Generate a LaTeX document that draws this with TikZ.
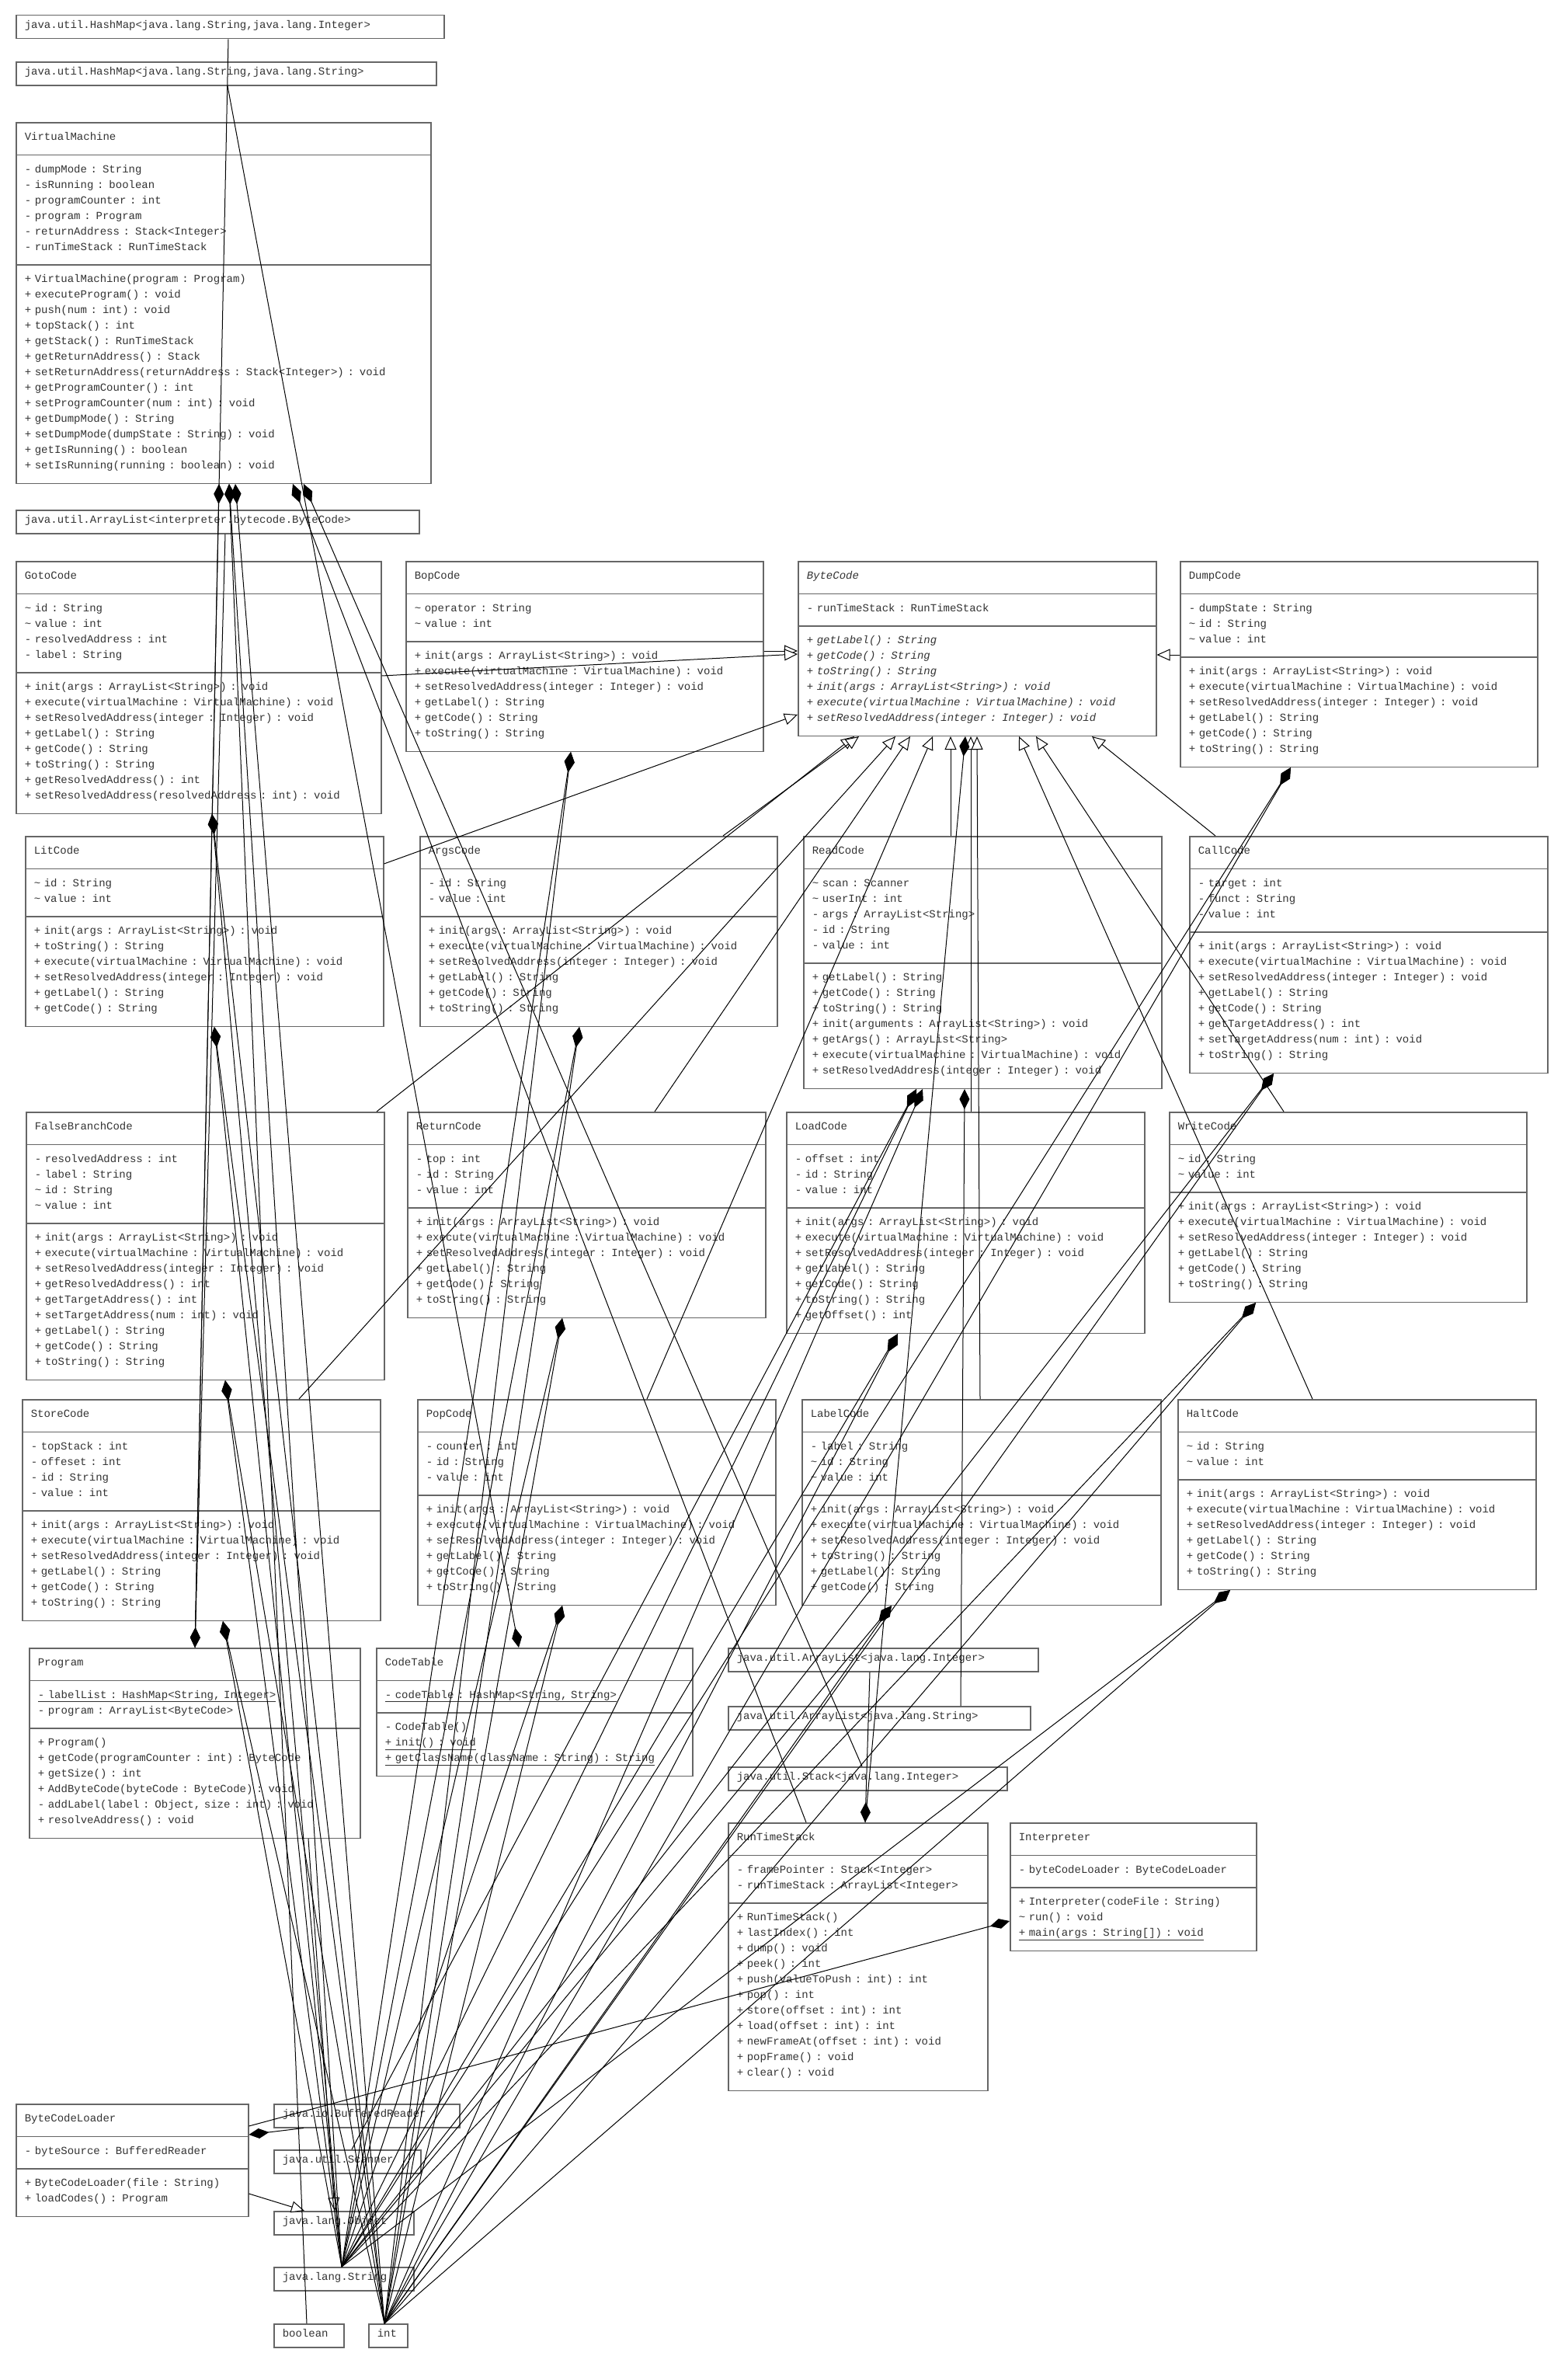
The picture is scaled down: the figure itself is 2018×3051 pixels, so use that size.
\documentclass[tikz,border=0pt]{standalone}
\usepackage{fontspec}
\newfontfamily\umlfont{Liberation Mono}
\usetikzlibrary{arrows.meta,shapes.multipart}
\newcommand{\ustrut}{\rule[-8pt]{0pt}{20pt}}
\newcommand{\tld}{\textasciitilde}

\begin{document}
\begin{tikzpicture}
[x=1pt,y=-1pt,%
  every node/.style={font=\umlfont\fontsize{14}{20}\selectfont,text=black!80,align=left,anchor=north west},%
  umlclass/.style={rectangle split,rectangle split parts=3,draw=black!60,line width=1.5pt,inner xsep=11pt,inner ysep=10pt},%
  typebox/.style={draw=black!60,line width=1.5pt,inner xsep=11pt,inner ysep=5pt},%
  link/.style={black,line width=1pt},%
  comp/.style={link,arrows={Diamond[length=26pt,width=13pt]-}},%
  gen/.style={link,arrows={-Triangle[length=17pt,width=15pt,fill=white]}}]
\fill[white] (0,0) rectangle (2018,3051);
\useasboundingbox (0,0) rectangle (2018,3051);

\node[typebox,text width=529pt] (hmSI) at (20,19) {\ustrut java.util.HashMap<java.lang.String,java.lang.Integer>};
\node[typebox,text width=519pt] (hmSS) at (20,79) {\ustrut java.util.HashMap<java.lang.String,java.lang.String>};
\node[umlclass,text width=512pt] (vm) at (20,157) {\ustrut VirtualMachine
  \nodepart{two}\ustrut - dumpMode : String\\
  \ustrut - isRunning : boolean\\
  \ustrut - programCounter : int\\
  \ustrut - program : Program\\
  \ustrut - returnAddress : Stack<Integer>\\
  \ustrut - runTimeStack : RunTimeStack
  \nodepart{three}\ustrut + VirtualMachine(program : Program)\\
  \ustrut + executeProgram() : void\\
  \ustrut + push(num : int) : void\\
  \ustrut + topStack() : int\\
  \ustrut + getStack() : RunTimeStack\\
  \ustrut + getReturnAddress() : Stack\\
  \ustrut + setReturnAddress(returnAddress : Stack<Integer>) : void\\
  \ustrut + getProgramCounter() : int\\
  \ustrut + setProgramCounter(num : int) : void\\
  \ustrut + getDumpMode() : String\\
  \ustrut + setDumpMode(dumpState : String) : void\\
  \ustrut + getIsRunning() : boolean\\
  \ustrut + setIsRunning(running : boolean) : void};
\node[typebox,text width=497pt] (alBC) at (20,656) {\ustrut java.util.ArrayList<interpreter.bytecode.ByteCode>};

\node[umlclass,text width=448pt] (goto) at (20,722) {\ustrut GotoCode
  \nodepart{two}\ustrut \tld{} id : String\\
  \ustrut \tld{} value : int\\
  \ustrut - resolvedAddress : int\\
  \ustrut - label : String
  \nodepart{three}\ustrut + init(args : ArrayList<String>) : void\\
  \ustrut + execute(virtualMachine : VirtualMachine) : void\\
  \ustrut + setResolvedAddress(integer : Integer) : void\\
  \ustrut + getLabel() : String\\
  \ustrut + getCode() : String\\
  \ustrut + toString() : String\\
  \ustrut + getResolvedAddress() : int\\
  \ustrut + setResolvedAddress(resolvedAddress : int) : void};
\node[umlclass,text width=438pt] (bop) at (522,722) {\ustrut BopCode
  \nodepart{two}\ustrut \tld{} operator : String\\
  \ustrut \tld{} value : int
  \nodepart{three}\ustrut + init(args : ArrayList<String>) : void\\
  \ustrut + execute(virtualMachine : VirtualMachine) : void\\
  \ustrut + setResolvedAddress(integer : Integer) : void\\
  \ustrut + getLabel() : String\\
  \ustrut + getCode() : String\\
  \ustrut + toString() : String};
\node[umlclass,text width=439pt] (bc) at (1027,722) {\ustrut\itshape ByteCode
  \nodepart{two}\ustrut - runTimeStack : RunTimeStack
  \nodepart{three}\itshape\ustrut + getLabel() : String\\
  \ustrut + getCode() : String\\
  \ustrut + toString() : String\\
  \ustrut + init(args : ArrayList<String>) : void\\
  \ustrut + execute(virtualMachine : VirtualMachine) : void\\
  \ustrut + setResolvedAddress(integer : Integer) : void};
\node[umlclass,text width=438pt] (dump) at (1519,722) {\ustrut DumpCode
  \nodepart{two}\ustrut - dumpState : String\\
  \ustrut \tld{} id : String\\
  \ustrut \tld{} value : int
  \nodepart{three}\ustrut + init(args : ArrayList<String>) : void\\
  \ustrut + execute(virtualMachine : VirtualMachine) : void\\
  \ustrut + setResolvedAddress(integer : Integer) : void\\
  \ustrut + getLabel() : String\\
  \ustrut + getCode() : String\\
  \ustrut + toString() : String};

\node[umlclass,text width=439pt] (lit) at (32,1076) {\ustrut LitCode
  \nodepart{two}\ustrut \tld{} id : String\\
  \ustrut \tld{} value : int
  \nodepart{three}\ustrut + init(args : ArrayList<String>) : void\\
  \ustrut + toString() : String\\
  \ustrut + execute(virtualMachine : VirtualMachine) : void\\
  \ustrut + setResolvedAddress(integer : Integer) : void\\
  \ustrut + getLabel() : String\\
  \ustrut + getCode() : String};
\node[umlclass,text width=438pt] (args) at (540,1076) {\ustrut ArgsCode
  \nodepart{two}\ustrut - id : String\\
  \ustrut - value : int
  \nodepart{three}\ustrut + init(args : ArrayList<String>) : void\\
  \ustrut + execute(virtualMachine : VirtualMachine) : void\\
  \ustrut + setResolvedAddress(integer : Integer) : void\\
  \ustrut + getLabel() : String\\
  \ustrut + getCode() : String\\
  \ustrut + toString() : String};
\node[umlclass,text width=439pt] (read) at (1034,1076) {\ustrut ReadCode
  \nodepart{two}\ustrut \tld{} scan : Scanner\\
  \ustrut \tld{} userInt : int\\
  \ustrut - args : ArrayList<String>\\
  \ustrut - id : String\\
  \ustrut - value : int
  \nodepart{three}\ustrut + getLabel() : String\\
  \ustrut + getCode() : String\\
  \ustrut + toString() : String\\
  \ustrut + init(arguments : ArrayList<String>) : void\\
  \ustrut + getArgs() : ArrayList<String>\\
  \ustrut + execute(virtualMachine : VirtualMachine) : void\\
  \ustrut + setResolvedAddress(integer : Integer) : void};
\node[umlclass,text width=439pt] (call) at (1531,1076) {\ustrut CallCode
  \nodepart{two}\ustrut - target : int\\
  \ustrut - funct : String\\
  \ustrut - value : int
  \nodepart{three}\ustrut + init(args : ArrayList<String>) : void\\
  \ustrut + execute(virtualMachine : VirtualMachine) : void\\
  \ustrut + setResolvedAddress(integer : Integer) : void\\
  \ustrut + getLabel() : String\\
  \ustrut + getCode() : String\\
  \ustrut + getTargetAddress() : int\\
  \ustrut + setTargetAddress(num : int) : void\\
  \ustrut + toString() : String};

\node[umlclass,text width=439pt] (fbc) at (33,1431) {\ustrut FalseBranchCode
  \nodepart{two}\ustrut - resolvedAddress : int\\
  \ustrut - label : String\\
  \ustrut \tld{} id : String\\
  \ustrut \tld{} value : int
  \nodepart{three}\ustrut + init(args : ArrayList<String>) : void\\
  \ustrut + execute(virtualMachine : VirtualMachine) : void\\
  \ustrut + setResolvedAddress(integer : Integer) : void\\
  \ustrut + getResolvedAddress() : int\\
  \ustrut + getTargetAddress() : int\\
  \ustrut + setTargetAddress(num : int) : void\\
  \ustrut + getLabel() : String\\
  \ustrut + getCode() : String\\
  \ustrut + toString() : String};
\node[umlclass,text width=439pt] (ret) at (524,1431) {\ustrut ReturnCode
  \nodepart{two}\ustrut - top : int\\
  \ustrut - id : String\\
  \ustrut - value : int
  \nodepart{three}\ustrut + init(args : ArrayList<String>) : void\\
  \ustrut + execute(virtualMachine : VirtualMachine) : void\\
  \ustrut + setResolvedAddress(integer : Integer) : void\\
  \ustrut + getLabel() : String\\
  \ustrut + getCode() : String\\
  \ustrut + toString() : String};
\node[umlclass,text width=439pt] (load) at (1012,1431) {\ustrut LoadCode
  \nodepart{two}\ustrut - offset : int\\
  \ustrut - id : String\\
  \ustrut - value : int
  \nodepart{three}\ustrut + init(args : ArrayList<String>) : void\\
  \ustrut + execute(virtualMachine : VirtualMachine) : void\\
  \ustrut + setResolvedAddress(integer : Integer) : void\\
  \ustrut + getLabel() : String\\
  \ustrut + getCode() : String\\
  \ustrut + toString() : String\\
  \ustrut + getOffset() : int};
\node[umlclass,text width=438pt] (write) at (1505,1431) {\ustrut WriteCode
  \nodepart{two}\ustrut \tld{} id : String\\
  \ustrut \tld{} value : int
  \nodepart{three}\ustrut + init(args : ArrayList<String>) : void\\
  \ustrut + execute(virtualMachine : VirtualMachine) : void\\
  \ustrut + setResolvedAddress(integer : Integer) : void\\
  \ustrut + getLabel() : String\\
  \ustrut + getCode() : String\\
  \ustrut + toString() : String};

\node[umlclass,text width=439pt] (store) at (28,1801) {\ustrut StoreCode
  \nodepart{two}\ustrut - topStack : int\\
  \ustrut - offeset : int\\
  \ustrut - id : String\\
  \ustrut - value : int
  \nodepart{three}\ustrut + init(args : ArrayList<String>) : void\\
  \ustrut + execute(virtualMachine : VirtualMachine) : void\\
  \ustrut + setResolvedAddress(integer : Integer) : void\\
  \ustrut + getLabel() : String\\
  \ustrut + getCode() : String\\
  \ustrut + toString() : String};
\node[umlclass,text width=439pt] (pop) at (537,1801) {\ustrut PopCode
  \nodepart{two}\ustrut - counter : int\\
  \ustrut - id : String\\
  \ustrut - value : int
  \nodepart{three}\ustrut + init(args : ArrayList<String>) : void\\
  \ustrut + execute(virtualMachine : VirtualMachine) : void\\
  \ustrut + setResolvedAddress(integer : Integer) : void\\
  \ustrut + getLabel() : String\\
  \ustrut + getCode() : String\\
  \ustrut + toString() : String};
\node[umlclass,text width=440pt] (label) at (1032,1801) {\ustrut LabelCode
  \nodepart{two}\ustrut - label : String\\
  \ustrut \tld{} id : String\\
  \ustrut \tld{} value : int
  \nodepart{three}\ustrut + init(args : ArrayList<String>) : void\\
  \ustrut + execute(virtualMachine : VirtualMachine) : void\\
  \ustrut + setResolvedAddress(integer : Integer) : void\\
  \ustrut + toString() : String\\
  \ustrut + getLabel() : String\\
  \ustrut + getCode() : String};
\node[umlclass,text width=439pt] (halt) at (1516,1801) {\ustrut HaltCode
  \nodepart{two}\ustrut \tld{} id : String\\
  \ustrut \tld{} value : int
  \nodepart{three}\ustrut + init(args : ArrayList<String>) : void\\
  \ustrut + execute(virtualMachine : VirtualMachine) : void\\
  \ustrut + setResolvedAddress(integer : Integer) : void\\
  \ustrut + getLabel() : String\\
  \ustrut + getCode() : String\\
  \ustrut + toString() : String};

\node[umlclass,text width=404pt] (prog) at (37,2121) {\ustrut Program
  \nodepart{two}\ustrut\underline{- labelList : HashMap<String, Integer>}\\
  \ustrut - program : ArrayList<ByteCode>
  \nodepart{three}\ustrut + Program()\\
  \ustrut + getCode(programCounter : int) : ByteCode\\
  \ustrut + getSize() : int\\
  \ustrut + AddByteCode(byteCode : ByteCode) : void\\
  \ustrut - addLabel(label : Object, size : int) : void\\
  \ustrut + resolveAddress() : void};
\node[umlclass,text width=385pt] (ct) at (484,2121) {\ustrut CodeTable
  \nodepart{two}\ustrut\underline{- codeTable : HashMap<String, String>}
  \nodepart{three}\ustrut - CodeTable()\\
  \ustrut\underline{+ init() : void}\\
  \ustrut\underline{+ getClassName(className : String) : String}};
\node[typebox,text width=377pt] (alI) at (937,2121) {\ustrut java.util.ArrayList<java.lang.Integer>};
\node[typebox,text width=367pt] (alS) at (937,2196) {\ustrut java.util.ArrayList<java.lang.String>};
\node[typebox,text width=337pt] (stk) at (937,2274) {\ustrut java.util.Stack<java.lang.Integer>};
\node[umlclass,text width=312pt] (rts) at (937,2346) {\ustrut RunTimeStack
  \nodepart{two}\ustrut - framePointer : Stack<Integer>\\
  \ustrut - runTimeStack : ArrayList<Integer>
  \nodepart{three}\ustrut + RunTimeStack()\\
  \ustrut + lastIndex() : int\\
  \ustrut + dump() : void\\
  \ustrut + peek() : int\\
  \ustrut + push(valueToPush : int) : int\\
  \ustrut + pop() : int\\
  \ustrut + store(offset : int) : int\\
  \ustrut + load(offset : int) : int\\
  \ustrut + newFrameAt(offset : int) : void\\
  \ustrut + popFrame() : void\\
  \ustrut + clear() : void};
\node[umlclass,text width=295pt] (interp) at (1300,2346) {\ustrut Interpreter
  \nodepart{two}\ustrut - byteCodeLoader : ByteCodeLoader
  \nodepart{three}\ustrut + Interpreter(codeFile : String)\\
  \ustrut \tld{} run() : void\\
  \ustrut\underline{+ main(args : String[]) : void}};

\node[umlclass,text width=277pt] (bcl) at (20,2708) {\ustrut ByteCodeLoader
  \nodepart{two}\ustrut - byteSource : BufferedReader
  \nodepart{three}\ustrut + ByteCodeLoader(file : String)\\
  \ustrut + loadCodes() : Program};
\node[typebox,text width=217pt] (br) at (352,2708) {\ustrut java.io.BufferedReader};
\node[typebox,text width=167pt] (scan) at (352,2767) {\ustrut java.util.Scanner};
\node[typebox,text width=158pt] (obj) at (352,2846) {\ustrut java.lang.Object};
\node[typebox,text width=158pt] (str) at (352,2918) {\ustrut java.lang.String};
\node[typebox,text width=68pt] (bool) at (352,2991) {\ustrut boolean};
\node[typebox,text width=28pt] (int) at (474,2991) {\ustrut int};

\coordinate (strtop) at ([xshift=88pt]str.north west);
\coordinate (inttop) at ([xshift=21pt]int.north west);

% generalisation
\draw[gen] ([yshift=-116pt]bop.north east) -- ([yshift=-116pt]bc.north west);
\draw[gen] ([yshift=-148pt]goto.north east) -- ([yshift=-120pt]bc.north west);
\draw[gen] ([yshift=-36pt]lit.north east) -- ([yshift=-198pt]bc.north west);
\draw[gen] ([yshift=-121pt]dump.north west) -- ([yshift=-121pt]bc.north east);
\draw[gen] ([xshift=452pt]fbc.north west) -- ([xshift=73pt]bc.south west);
\draw[gen] ([xshift=391pt]args.north west) -- ([xshift=79pt]bc.south west);
\draw[gen] ([xshift=357pt]store.north west) -- ([xshift=126pt]bc.south west);
\draw[gen] ([xshift=319pt]ret.north west) -- ([xshift=145pt]bc.south west);
\draw[gen] ([xshift=296pt]pop.north west) -- ([xshift=174pt]bc.south west);
\draw[gen] ([xshift=190pt]read.north west) -- ([xshift=197pt]bc.south west);
\draw[gen] ([xshift=238pt]load.north west) -- ([xshift=223pt]bc.south west);
\draw[gen] ([xshift=230pt]label.north west) -- ([xshift=231pt]bc.south west);
\draw[gen] ([xshift=174pt]halt.north west) -- ([xshift=285pt]bc.south west);
\draw[gen] ([xshift=148pt]write.north west) -- ([xshift=307pt]bc.south west);
\draw[gen] ([xshift=34pt]call.north west) -- ([xshift=379pt]bc.south west);
\draw[gen] ([yshift=-116pt]bcl.north east) -- ([xshift=40pt]obj.north west);
\draw[gen] ([xshift=360pt]prog.south west) -- ([xshift=79pt]obj.north west);

% composition
\draw[comp] ([xshift=262pt]vm.south west) -- ([xshift=214pt]prog.north west);
\draw[comp] ([xshift=275pt]vm.south west) -- ([xshift=43pt]bool.north west);
\draw[comp] ([xshift=275pt]vm.south west) -- (strtop);
\draw[comp] ([xshift=283pt]vm.south west) -- (inttop);
\draw[comp] ([xshift=357pt]vm.south west) -- ([xshift=101pt]rts.north west);
\draw[comp] ([xshift=371pt]vm.south west) -- ([xshift=173pt]stk.north west);
\draw[comp] ([xshift=214pt]prog.north west) -- ([xshift=274pt]hmSI.south west);
\draw[comp] ([xshift=214pt]prog.north west) -- ([xshift=270pt]alBC.south west);
\draw[comp] ([xshift=184pt]ct.north west) -- ([xshift=273pt]hmSS.south west);
\draw[comp] ([xshift=216pt]bc.south west) -- ([xshift=177pt]rts.north west);
\draw[comp] ([xshift=177pt]rts.north west) -- ([xshift=183pt]alI.south west);
\draw[comp] ([yshift=-127pt]interp.north west) -- ([yshift=-29pt]bcl.north east);
\draw[comp] ([yshift=-40pt]bcl.north east) -- ([xshift=39pt]br.south west);
\draw[comp] ([xshift=146pt]read.south west) -- ([xshift=101pt]scan.north west);
\draw[comp] ([xshift=208pt]read.south west) -- ([xshift=300pt]alS.north west);
\draw[comp] ([xshift=146pt]read.south west) -- (strtop);
\draw[comp] ([xshift=154pt]read.south west) -- (inttop);
\draw[comp] ([xshift=253pt]goto.south west) -- (strtop);
\draw[comp] ([xshift=253pt]goto.south west) -- (inttop);
\draw[comp] ([xshift=213pt]bop.south west) -- (strtop);
\draw[comp] ([xshift=213pt]bop.south west) -- (inttop);
\draw[comp] ([xshift=143pt]dump.south west) -- (strtop);
\draw[comp] ([xshift=143pt]dump.south west) -- (inttop);
\draw[comp] ([xshift=244pt]lit.south west) -- (strtop);
\draw[comp] ([xshift=244pt]lit.south west) -- (inttop);
\draw[comp] ([xshift=206pt]args.south west) -- (strtop);
\draw[comp] ([xshift=206pt]args.south west) -- (inttop);
\draw[comp] ([xshift=109pt]call.south west) -- (strtop);
\draw[comp] ([xshift=109pt]call.south west) -- (inttop);
\draw[comp] ([xshift=257pt]fbc.south west) -- (strtop);
\draw[comp] ([xshift=257pt]fbc.south west) -- (inttop);
\draw[comp] ([xshift=200pt]ret.south west) -- (strtop);
\draw[comp] ([xshift=200pt]ret.south west) -- (inttop);
\draw[comp] ([xshift=144pt]load.south west) -- (strtop);
\draw[comp] ([xshift=144pt]load.south west) -- (inttop);
\draw[comp] ([xshift=112pt]write.south west) -- (strtop);
\draw[comp] ([xshift=112pt]write.south west) -- (inttop);
\draw[comp] ([xshift=259pt]store.south west) -- (strtop);
\draw[comp] ([xshift=259pt]store.south west) -- (inttop);
\draw[comp] ([xshift=187pt]pop.south west) -- (strtop);
\draw[comp] ([xshift=187pt]pop.south west) -- (inttop);
\draw[comp] ([xshift=116pt]label.south west) -- (strtop);
\draw[comp] ([xshift=116pt]label.south west) -- (inttop);
\draw[comp] ([xshift=68pt]halt.south west) -- (strtop);
\draw[comp] ([xshift=68pt]halt.south west) -- (inttop);
\end{tikzpicture}
\end{document}
